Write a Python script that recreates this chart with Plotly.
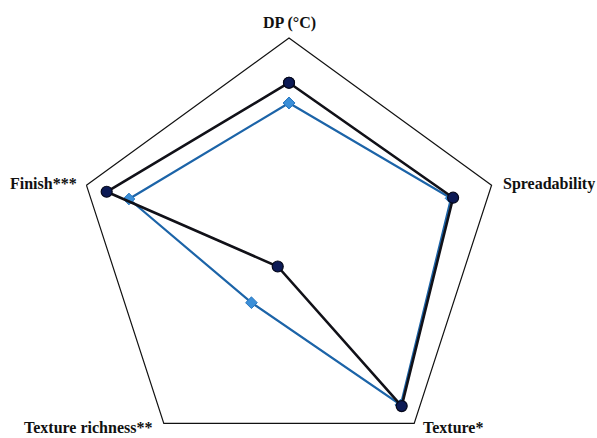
import plotly.graph_objects as go

# Sensory attributes, clockwise from the top
attributes = ["DP (°C)", "Spreadability", "Texture*", "Texture richness**", "Finish***"]

# Scores on a 0–1 scale
series_dark = [0.79, 0.81, 0.90, 0.09, 0.90]
series_blue = [0.695, 0.80, 0.893, 0.30, 0.79]

# Figure geometry (pixels)
W, H = 597, 470
M_L, M_R, M_T, M_B = 76, 95, 38, 6
PLOT_W = W - M_L - M_R
PLOT_H = H - M_T - M_B

# Attribute label placement: (x px, y px, xanchor)
label_spots = [
    (289, 23, "center"),
    (501, 184, "left"),
    (421, 427, "left"),
    (88, 427, "center"),
    (79, 183, "right"),
]


def closed(values):
    return values + values[:1]


theta = closed(attributes)

fig = go.Figure()

fig.add_trace(go.Scatterpolar(
    r=closed(series_blue),
    theta=theta,
    mode="lines+markers",
    line=dict(color="#1c64a8", width=2.2),
    marker=dict(symbol="diamond", size=9, color="#3b8fd8",
                line=dict(color="#2a78c0", width=1)),
    showlegend=False,
))

fig.add_trace(go.Scatterpolar(
    r=closed(series_dark),
    theta=theta,
    mode="lines+markers",
    line=dict(color="#111118", width=2.6),
    marker=dict(symbol="circle", size=11, color="#0c1a55",
                line=dict(color="#05081a", width=1.2)),
    showlegend=False,
))

for name, (px, py, anchor) in zip(attributes, label_spots):
    fig.add_annotation(
        text=name,
        xref="paper", yref="paper",
        x=(px - M_L) / PLOT_W,
        y=(H - M_B - py) / PLOT_H,
        xanchor=anchor, yanchor="middle",
        showarrow=False,
        font=dict(family="Liberation Serif", size=16,
                  color="#111111", weight="bold"),
    )

fig.update_layout(
    width=W,
    height=H,
    margin=dict(l=M_L, r=M_R, t=M_T, b=M_B),
    paper_bgcolor="white",
    plot_bgcolor="white",
    polar=dict(
        bgcolor="white",
        gridshape="linear",
        radialaxis=dict(visible=False, range=[0, 1], showgrid=False),
        angularaxis=dict(
            direction="clockwise",
            rotation=90,
            showgrid=False,
            showline=True,
            linecolor="#111111",
            linewidth=1.2,
            ticks="",
            showticklabels=False,
        ),
    ),
)

fig.write_html(
    "out.html",
    post_script="document.documentElement.style.overflow='hidden';"
                "document.body.style.overflow='hidden';",
)
